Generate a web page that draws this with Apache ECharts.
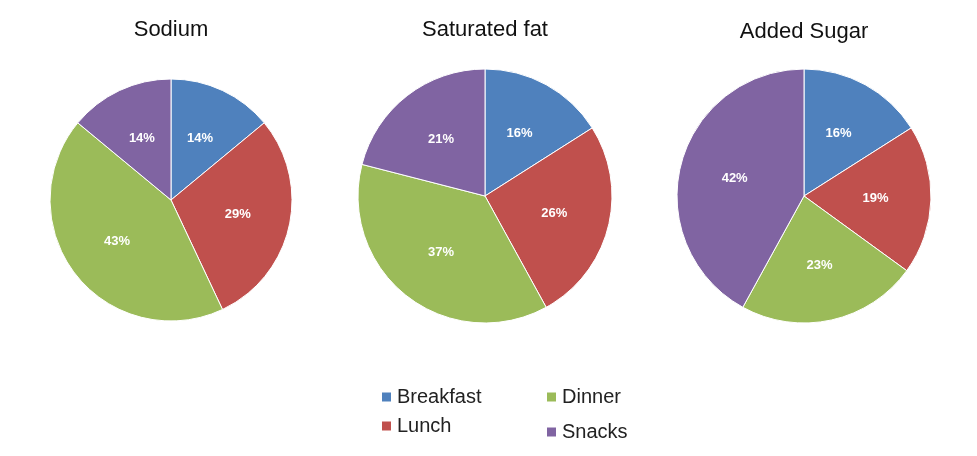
<!DOCTYPE html>
<html>
<head>
<meta charset="utf-8">
<script src="https://cdn.jsdelivr.net/npm/echarts@6/dist/echarts.min.js"></script>
<style>
html, body { margin: 0; padding: 0; background: #fff; }
#main { width: 977px; height: 456px; }
</style>
</head>
<body>
<div id="main"></div>
<script>
var categories = ['Breakfast', 'Lunch', 'Dinner', 'Snacks'];
var sodium = [14, 29, 43, 14];
var saturatedFat = [16, 26, 37, 21];
var addedSugar = [16, 19, 23, 42];
var titles = ['Sodium', 'Saturated fat', 'Added Sugar'];

var colors = ['#4F81BD', '#C0504D', '#9BBB59', '#8064A2'];
var font = 'Liberation Sans, Arial, sans-serif';

// one pie per nutrient
var pies = [
    { values: sodium, center: [171, 200], r: 121, titleTop: 19 },
    { values: saturatedFat, center: [485, 196], r: 127, titleTop: 19 },
    { values: addedSugar, center: [804, 196], r: 127, titleTop: 21 }
];

function toData(values) {
    return categories.map(function (c, i) {
        return { name: c, value: values[i] };
    });
}

var series = [];
var title = [];
pies.forEach(function (p, k) {
    title.push({
        text: titles[k],
        left: p.center[0],
        top: p.titleTop,
        textAlign: 'center',
        padding: 0,
        textStyle: { fontFamily: font, fontSize: 22, fontWeight: 'normal', color: '#111' }
    });
    series.push({
        name: titles[k],
        type: 'pie',
        center: p.center,
        radius: p.r,
        startAngle: 90,
        clockwise: true,
        avoidLabelOverlap: false,
        itemStyle: { borderColor: '#fff', borderWidth: 1 },
        label: { show: false },
        labelLine: { show: false },
        emphasis: { disabled: true },
        data: toData(p.values)
    });
    // transparent copy, only used to place the labels a bit further out
    series.push({
        name: titles[k] + ' labels',
        type: 'pie',
        center: p.center,
        radius: [p.r * 0.08, p.r],
        startAngle: 90,
        clockwise: true,
        silent: true,
        avoidLabelOverlap: false,
        itemStyle: { color: 'rgba(0,0,0,0)', borderWidth: 0 },
        label: {
            show: true,
            position: 'inside',
            formatter: '{c}%',
            color: '#fff',
            fontFamily: font,
            fontWeight: 'bold',
            fontSize: 13
        },
        labelLine: { show: false },
        emphasis: { disabled: true },
        data: toData(p.values)
    });
});

var chart = echarts.init(document.getElementById('main'));
var option = {
    animation: false,
    color: colors,
    title: title,
    legend: [
        {
            orient: 'vertical',
            left: 375,
            top: 382,
            itemGap: 9,
            itemWidth: 11,
            itemHeight: 11,
            icon: 'rect',
            selectedMode: false,
            data: ['Breakfast', 'Lunch'],
            textStyle: { fontFamily: font, fontSize: 20, color: '#222' }
        },
        {
            orient: 'vertical',
            left: 540,
            top: 382,
            itemGap: 15,
            itemWidth: 11,
            itemHeight: 11,
            icon: 'rect',
            selectedMode: false,
            data: ['Dinner', 'Snacks'],
            textStyle: { fontFamily: font, fontSize: 20, color: '#222' }
        }
    ],
    series: series
};
chart.setOption(option);
</script>
</body>
</html>
